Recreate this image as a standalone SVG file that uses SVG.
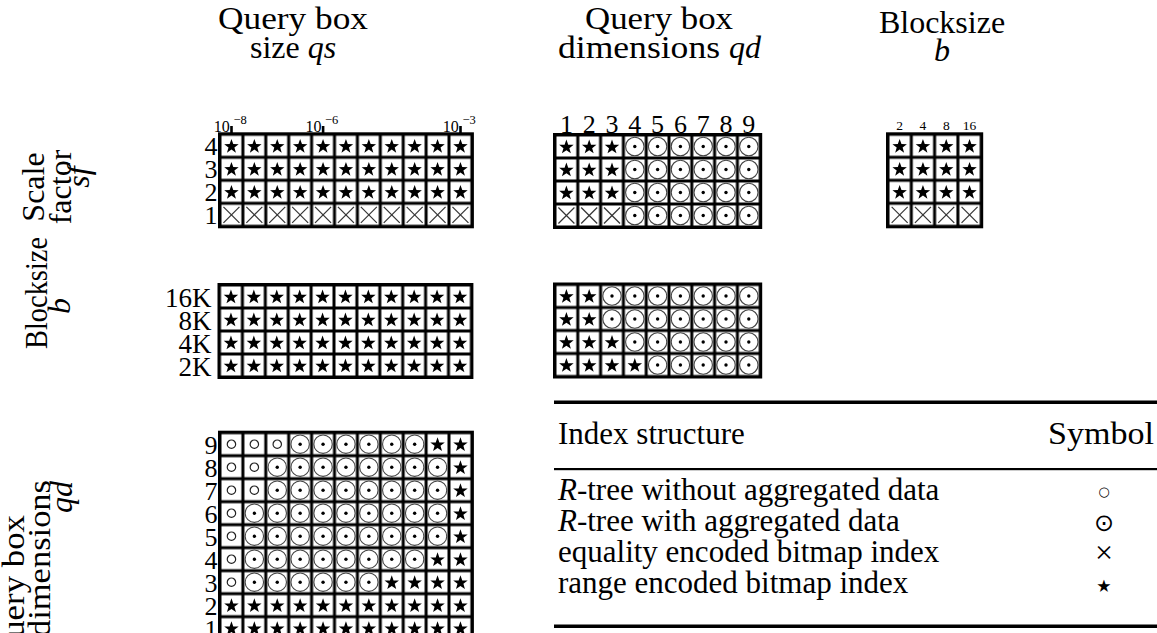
<svg xmlns="http://www.w3.org/2000/svg" width="1157" height="633" viewBox="0 0 1157 633">
<style>
  text { font-family: "Liberation Serif", "Times New Roman", serif; fill: #000; }
  .hd { font-size: 32px; }
  .it { font-style: italic; }
  .num { font-size: 26px; }
  .bk { font-size: 27px; }
  .sm { font-size: 13.5px; }
  .tk { font-size: 16px; }
  .ex { font-size: 12.5px; }
  .lg { font-size: 31px; }
  .sym { font-family: "DejaVu Sans", sans-serif; }
  .mid { text-anchor: middle; }
  .end { text-anchor: end; }
</style>
<defs>
  <!-- cell tiles: black rule with a white square inside -->
  <pattern id="cellA" width="22.9" height="23" patternUnits="userSpaceOnUse">
    <rect width="22.9" height="23" fill="#000"/>
    <rect x="1.5" y="1.5" width="19.9" height="20" fill="#fff"/>
  </pattern>
  <pattern id="cellB" width="22.8" height="23" patternUnits="userSpaceOnUse">
    <rect width="22.8" height="23" fill="#000"/>
    <rect x="1.5" y="1.5" width="19.8" height="20" fill="#fff"/>
  </pattern>
  <pattern id="cellC" width="23.3" height="23" patternUnits="userSpaceOnUse">
    <rect width="23.3" height="23" fill="#000"/>
    <rect x="1.5" y="1.5" width="20.3" height="20" fill="#fff"/>
  </pattern>
  <!-- cell markers, centred on 0,0 -->
  <polygon id="s" points="0,-6.9 1.822,-1.808 7.228,-1.648 2.948,1.658 4.467,6.848 0,3.8 -4.467,6.848 -2.948,1.658 -7.228,-1.648 -1.822,-1.808" fill="#000"/>
  <g id="x" stroke="#333" stroke-width="1.2" fill="none">
    <line x1="-8" y1="-8" x2="8" y2="8"/>
    <line x1="-8" y1="8" x2="8" y2="-8"/>
  </g>
  <g id="o">
    <circle r="9.2" fill="none" stroke="#444" stroke-width="1.1"/>
    <circle r="1.7" fill="#000"/>
  </g>
  <circle id="c" r="4.2" fill="none" stroke="#222" stroke-width="1.2"/>
  <!-- full rows of eleven -->
  <g id="r11s">
    <use href="#s" x="11.45"/><use href="#s" x="34.35"/><use href="#s" x="57.25"/><use href="#s" x="80.15"/>
    <use href="#s" x="103.05"/><use href="#s" x="125.95"/><use href="#s" x="148.85"/><use href="#s" x="171.75"/>
    <use href="#s" x="194.65"/><use href="#s" x="217.55"/><use href="#s" x="240.45"/>
  </g>
  <g id="r11x">
    <use href="#x" x="11.45"/><use href="#x" x="34.35"/><use href="#x" x="57.25"/><use href="#x" x="80.15"/>
    <use href="#x" x="103.05"/><use href="#x" x="125.95"/><use href="#x" x="148.85"/><use href="#x" x="171.75"/>
    <use href="#x" x="194.65"/><use href="#x" x="217.55"/><use href="#x" x="240.45"/>
  </g>
</defs>

<rect width="1157" height="633" fill="#fff"/>

<!-- column headings -->
<g id="head-qs">
  <text class="hd" x="218" y="29" textLength="150" lengthAdjust="spacingAndGlyphs">Query box</text>
  <text class="hd" x="250" y="58">size <tspan class="it">qs</tspan></text>
</g>
<g id="head-qd">
  <text class="hd" x="585" y="29" textLength="148" lengthAdjust="spacingAndGlyphs">Query box</text>
  <text class="hd" x="558" y="58" textLength="162" lengthAdjust="spacingAndGlyphs">dimensions</text>
  <text class="hd it" x="729" y="58">qd</text>
</g>
<g id="head-b">
  <text class="hd mid" x="942" y="33">Blocksize</text>
  <text class="hd it mid" x="942" y="61">b</text>
</g>

<!-- row headings, rotated -->
<g id="side-sf">
  <text class="hd mid" transform="translate(44,187) rotate(-90)">Scale</text>
  <text class="hd mid" transform="translate(71,187) rotate(-90)">factor</text>
  <text class="hd it mid" transform="translate(89,177) rotate(-90)">sf</text>
</g>
<g id="side-b">
  <text class="hd mid" transform="translate(47,293) rotate(-90)" textLength="112" lengthAdjust="spacingAndGlyphs">Blocksize</text>
  <text class="hd it mid" transform="translate(70,306) rotate(-90)">b</text>
</g>
<g id="side-qd">
  <text class="hd mid" transform="translate(24,589) rotate(-90)" textLength="148" lengthAdjust="spacingAndGlyphs">Query box</text>
  <text class="hd mid" transform="translate(50,558.5) rotate(-90)" textLength="157" lengthAdjust="spacingAndGlyphs">dimensions</text>
  <text class="hd it mid" transform="translate(72,497) rotate(-90)">qd</text>
</g>

<!-- scale factor vs query box size -->
<g id="grid-sf-qs">
  <g id="ticks-qs">
    <rect x="230.2" y="126" width="2.6" height="9"/>
    <rect x="321.8" y="126" width="2.6" height="9"/>
    <rect x="459.2" y="126" width="2.6" height="9"/>
    <text class="tk end" x="229.8" y="132">10</text><text class="ex" x="233.4" y="124">−8</text>
    <text class="tk end" x="321.4" y="132">10</text><text class="ex" x="325" y="124">−6</text>
    <text class="tk end" x="458.8" y="132">10</text><text class="ex" x="462.4" y="124">−3</text>
  </g>
  <text class="num end" x="217.5" y="155.3">4</text>
  <text class="num end" x="217.5" y="178.3">3</text>
  <text class="num end" x="217.5" y="201.3">2</text>
  <text class="num end" x="217.5" y="224.3">1</text>
  <g transform="translate(220,134.3)">
    <rect x="-2" y="-2" width="255.9" height="96" fill="#000"/>
    <rect width="251.9" height="92" fill="url(#cellA)"/>
    <use href="#r11s" y="11.5"/><use href="#r11s" y="34.5"/><use href="#r11s" y="57.5"/><use href="#r11x" y="80.5"/>
  </g>
</g>

<!-- scale factor vs query box dimensions -->
<g id="grid-sf-qd">
  <text class="num mid" x="566.4" y="133">1</text><text class="num mid" x="589.2" y="133">2</text>
  <text class="num mid" x="612" y="133">3</text><text class="num mid" x="634.8" y="133">4</text>
  <text class="num mid" x="657.6" y="133">5</text><text class="num mid" x="680.4" y="133">6</text>
  <text class="num mid" x="703.2" y="133">7</text><text class="num mid" x="726" y="133">8</text>
  <text class="num mid" x="748.8" y="133">9</text>
  <g transform="translate(555,135)">
    <rect x="-2" y="-2" width="209.2" height="96" fill="#000"/>
    <rect width="205.2" height="92" fill="url(#cellB)"/>
    <g id="r-sf-qd-a">
      <use href="#s" x="11.4" y="11.5"/><use href="#s" x="34.2" y="11.5"/><use href="#s" x="57" y="11.5"/>
      <use href="#o" x="79.8" y="11.5"/><use href="#o" x="102.6" y="11.5"/><use href="#o" x="125.4" y="11.5"/>
      <use href="#o" x="148.2" y="11.5"/><use href="#o" x="171" y="11.5"/><use href="#o" x="193.8" y="11.5"/>
    </g>
    <use href="#r-sf-qd-a" y="23"/>
    <use href="#r-sf-qd-a" y="46"/>
    <use href="#x" x="11.4" y="80.5"/><use href="#x" x="34.2" y="80.5"/><use href="#x" x="57" y="80.5"/>
    <use href="#o" x="79.8" y="80.5"/><use href="#o" x="102.6" y="80.5"/><use href="#o" x="125.4" y="80.5"/>
    <use href="#o" x="148.2" y="80.5"/><use href="#o" x="171" y="80.5"/><use href="#o" x="193.8" y="80.5"/>
  </g>
</g>

<!-- scale factor vs blocksize -->
<g id="grid-sf-b">
  <text class="sm mid" x="899.65" y="129.5">2</text><text class="sm mid" x="922.95" y="129.5">4</text>
  <text class="sm mid" x="946.25" y="129.5">8</text><text class="sm mid" x="969.55" y="129.5">16</text>
  <g transform="translate(888,134.3)">
    <rect x="-2" y="-2" width="97.2" height="96" fill="#000"/>
    <rect width="93.2" height="92" fill="url(#cellC)"/>
    <g id="r-sf-b">
      <use href="#s" x="11.65" y="11.5"/><use href="#s" x="34.95" y="11.5"/><use href="#s" x="58.25" y="11.5"/><use href="#s" x="81.55" y="11.5"/>
    </g>
    <use href="#r-sf-b" y="23"/><use href="#r-sf-b" y="46"/>
    <use href="#x" x="11.65" y="80.5"/><use href="#x" x="34.95" y="80.5"/><use href="#x" x="58.25" y="80.5"/><use href="#x" x="81.55" y="80.5"/>
  </g>
</g>

<!-- blocksize vs query box size -->
<g id="grid-b-qs">
  <text class="bk end" x="211.5" y="306.5">16K</text>
  <text class="bk end" x="211.5" y="329.5">8K</text>
  <text class="bk end" x="211.5" y="352.5">4K</text>
  <text class="bk end" x="211.5" y="375.5">2K</text>
  <g transform="translate(219.5,285)">
    <rect x="-2" y="-2" width="255.9" height="96" fill="#000"/>
    <rect width="251.9" height="92" fill="url(#cellA)"/>
    <use href="#r11s" y="11.5"/><use href="#r11s" y="34.5"/><use href="#r11s" y="57.5"/><use href="#r11s" y="80.5"/>
  </g>
</g>

<!-- blocksize vs query box dimensions -->
<g id="grid-b-qd">
  <g transform="translate(555,284.5)">
    <rect x="-2" y="-2" width="209.2" height="96" fill="#000"/>
    <rect width="205.2" height="92" fill="url(#cellB)"/>
    <g id="r-b-qd-a">
      <use href="#s" x="11.4" y="11.5"/><use href="#s" x="34.2" y="11.5"/><use href="#o" x="57" y="11.5"/>
      <use href="#o" x="79.8" y="11.5"/><use href="#o" x="102.6" y="11.5"/><use href="#o" x="125.4" y="11.5"/>
      <use href="#o" x="148.2" y="11.5"/><use href="#o" x="171" y="11.5"/><use href="#o" x="193.8" y="11.5"/>
    </g>
    <use href="#r-b-qd-a" y="23"/>
    <use href="#s" x="11.4" y="57.5"/><use href="#s" x="34.2" y="57.5"/><use href="#s" x="57" y="57.5"/>
    <use href="#o" x="79.8" y="57.5"/><use href="#o" x="102.6" y="57.5"/><use href="#o" x="125.4" y="57.5"/>
    <use href="#o" x="148.2" y="57.5"/><use href="#o" x="171" y="57.5"/><use href="#o" x="193.8" y="57.5"/>
    <use href="#s" x="11.4" y="80.5"/><use href="#s" x="34.2" y="80.5"/><use href="#s" x="57" y="80.5"/>
    <use href="#s" x="79.8" y="80.5"/><use href="#o" x="102.6" y="80.5"/><use href="#o" x="125.4" y="80.5"/>
    <use href="#o" x="148.2" y="80.5"/><use href="#o" x="171" y="80.5"/><use href="#o" x="193.8" y="80.5"/>
  </g>
</g>

<!-- query box dimensions vs query box size -->
<g id="grid-qd-qs">
  <text class="num end" x="217.5" y="453.7">9</text>
  <text class="num end" x="217.5" y="476.7">8</text>
  <text class="num end" x="217.5" y="499.7">7</text>
  <text class="num end" x="217.5" y="522.7">6</text>
  <text class="num end" x="217.5" y="545.7">5</text>
  <text class="num end" x="217.5" y="568.7">4</text>
  <text class="num end" x="217.5" y="591.7">3</text>
  <text class="num end" x="217.5" y="614.7">2</text>
  <text class="num end" x="217.5" y="637.7">1</text>
  <g transform="translate(220,432.7)">
    <rect x="-2" y="-2" width="255.9" height="211" fill="#000"/>
    <rect width="251.9" height="207" fill="url(#cellA)"/>
    <!-- qd = 9 -->
    <g transform="translate(0,11.5)">
      <use href="#c" x="11.45"/><use href="#c" x="34.35"/><use href="#c" x="57.25"/>
      <use href="#o" x="80.15"/><use href="#o" x="103.05"/><use href="#o" x="125.95"/><use href="#o" x="148.85"/>
      <use href="#o" x="171.75"/><use href="#o" x="194.65"/><use href="#s" x="217.55"/><use href="#s" x="240.45"/>
    </g>
    <!-- qd = 8, 7 -->
    <g id="r-qd-8" transform="translate(0,34.5)">
      <use href="#c" x="11.45"/><use href="#c" x="34.35"/><use href="#o" x="57.25"/>
      <use href="#o" x="80.15"/><use href="#o" x="103.05"/><use href="#o" x="125.95"/><use href="#o" x="148.85"/>
      <use href="#o" x="171.75"/><use href="#o" x="194.65"/><use href="#o" x="217.55"/><use href="#s" x="240.45"/>
    </g>
    <use href="#r-qd-8" y="23"/>
    <!-- qd = 6, 5 -->
    <g id="r-qd-6" transform="translate(0,80.5)">
      <use href="#c" x="11.45"/><use href="#o" x="34.35"/><use href="#o" x="57.25"/>
      <use href="#o" x="80.15"/><use href="#o" x="103.05"/><use href="#o" x="125.95"/><use href="#o" x="148.85"/>
      <use href="#o" x="171.75"/><use href="#o" x="194.65"/><use href="#o" x="217.55"/><use href="#s" x="240.45"/>
    </g>
    <use href="#r-qd-6" y="23"/>
    <!-- qd = 4 -->
    <g transform="translate(0,126.5)">
      <use href="#c" x="11.45"/><use href="#o" x="34.35"/><use href="#o" x="57.25"/>
      <use href="#o" x="80.15"/><use href="#o" x="103.05"/><use href="#o" x="125.95"/><use href="#o" x="148.85"/>
      <use href="#o" x="171.75"/><use href="#o" x="194.65"/><use href="#s" x="217.55"/><use href="#s" x="240.45"/>
    </g>
    <!-- qd = 3 -->
    <g transform="translate(0,149.5)">
      <use href="#c" x="11.45"/><use href="#o" x="34.35"/><use href="#o" x="57.25"/>
      <use href="#o" x="80.15"/><use href="#o" x="103.05"/><use href="#o" x="125.95"/><use href="#o" x="148.85"/>
      <use href="#s" x="171.75"/><use href="#s" x="194.65"/><use href="#s" x="217.55"/><use href="#s" x="240.45"/>
    </g>
    <!-- qd = 2, 1 -->
    <use href="#r11s" y="172.5"/><use href="#r11s" y="195.5"/>
  </g>
</g>

<!-- legend table -->
<g id="legend">
  <rect x="554" y="400.5" width="603" height="3.5" fill="#000"/>
  <rect x="554" y="468" width="603" height="2.2" fill="#000"/>
  <rect x="554" y="624.5" width="603" height="3.5" fill="#000"/>
  <text class="lg" x="558" y="444">Index structure</text>
  <text class="lg end" x="1154" y="444" textLength="106" lengthAdjust="spacingAndGlyphs">Symbol</text>
  <text class="lg" x="558" y="500"><tspan class="it">R</tspan>-tree without aggregated data</text>
  <text class="lg" x="558" y="531"><tspan class="it">R</tspan>-tree with aggregated data</text>
  <text class="lg" x="558" y="562">equality encoded bitmap index</text>
  <text class="lg" x="558" y="593">range encoded bitmap index</text>
  <text class="sym mid" x="1104" y="496" font-size="13">○</text>
  <text class="sym mid" x="1104" y="531" font-size="24">⊙</text>
  <text class="mid" x="1104" y="563" font-size="32">×</text>
  <text class="sym mid" x="1104" y="597" font-size="34">⋆</text>
</g>
</svg>
